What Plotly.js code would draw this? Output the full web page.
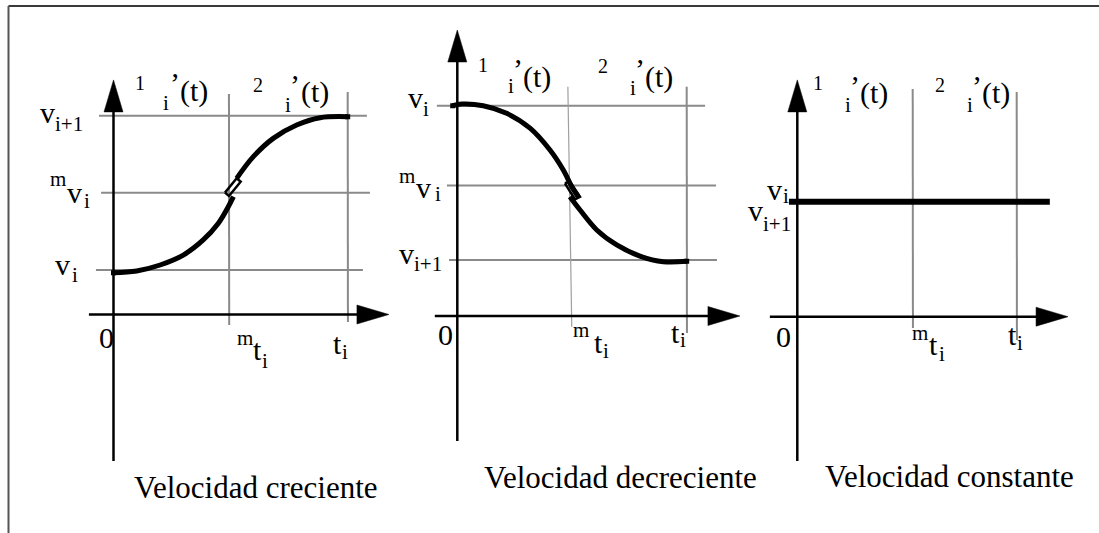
<!DOCTYPE html>
<html>
<head>
<meta charset="utf-8">
<script src="https://cdn.plot.ly/plotly-3.0.1.min.js"></script>
<style>
html, body { margin: 0; padding: 0; background: #ffffff; }
#chart { width: 1099px; height: 533px; }
</style>
</head>
<body>
<div id="chart"></div>
<script>
// ================= DATA =================
const panelTitles = ['Velocidad creciente', 'Velocidad decreciente', 'Velocidad constante'];

// time marks: 0, m t_i, t_i  (in units of t_i)
const crecTimes = [0, 0.493, 1];
const decrTimes = [0, 0.49, 1];
const consTimes = [0, 0.526, 1];

// velocity levels
const crecLevels = [0.224, 0.613, 1.0];   // v_i, m v_i, v_{i+1}
const decrLevels = [1.0, 0.620, 0.266];   // v_i, m v_i, v_{i+1}
const consLevels = [0.575];               // v_i = v_{i+1}

// tick label texts
const timeBase = ['0', 't', 't'];
const timeSup  = ['', 'm', ''];
const timeSub  = ['', 'i', 'i'];
const crecLevelSup = ['', 'm', ''];
const crecLevelSub = ['i', 'i', 'i+1'];
const decrLevelSup = ['', 'm', ''];
const decrLevelSub = ['i', 'i', 'i+1'];
const consLevelSub = ['i', 'i+1'];
const levelBase = 'v';
const segIndex = ['1', '2'];
const segFunc = ['i', '\u2019', '(t)'];

// Velocidad creciente: curve (two halves joined at m t_i)
const crecLowT = [0.0, 0.099, 0.199, 0.298, 0.383, 0.447, 0.490, 0.512];
const crecLowV = [0.210, 0.219, 0.249, 0.299, 0.375, 0.458, 0.542, 0.593];
const crecUpT  = [0.526, 0.597, 0.682, 0.782, 0.882, 1.0];
const crecUpV  = [0.685, 0.794, 0.886, 0.953, 0.990, 0.995];
const crecJointT = [0.476, 0.526, 0.543, 0.493, 0.476];
const crecJointV = [0.613, 0.685, 0.668, 0.596, 0.613];

// Velocidad decreciente: curve
const decrUpT  = [-0.02, 0.02, 0.113, 0.215, 0.317, 0.404, 0.462, 0.499, 0.527];
const decrUpV  = [1.000, 1.008, 1.000, 0.964, 0.893, 0.789, 0.694, 0.615, 0.567];
const decrLowT = [0.491, 0.535, 0.608, 0.695, 0.796, 0.898, 1.0];
const decrLowV = [0.567, 0.504, 0.409, 0.338, 0.285, 0.258, 0.260];
const decrJointT = [0.469, 0.491, 0.535, 0.513, 0.469];
const decrJointV = [0.631, 0.639, 0.567, 0.555, 0.631];

// Velocidad constante: flat line
const consT = [-0.038, 1.151];
const consV = [0.575, 0.575];

// ================= LAYOUT / STYLE CONFIG =================
const W = 1099, H = 533;
const SERIF = '"Liberation Serif", "Times New Roman", serif';
const GRAY = '#8a8a8a';
const ARROW_LEN = 32, ARROW_HALF = 9.5;
const FS_MAIN = 30, FS_SMALL = 21, FS_IDX = 20, FS_APOS = 30, FS_TITLE = 31;

const GEOM = [
  { ox: 113.5, oy: 314.5, sx: 234.2, sy: 198.8, xr: [-0.2, 1.25], yr: [-0.8, 1.3],
    xAxis: [-0.105, 1.176], yAxis: [-0.737, 1.18],
    hExt: [[-0.075, 1.065], [-0.053, 1.095], [-0.062, 1.082]],
    vExt: [[-0.053, 1.109], [-0.038, 1.119]], vSlant: [0, 0], vStyle: [[GRAY, 2], [GRAY, 2]] },
  { ox: 457.3, oy: 316, sx: 229.4, sy: 210.3, xr: [-0.2, 1.3], yr: [-0.7, 1.45],
    xAxis: [-0.098, 1.232], yAxis: [-0.594, 1.36],
    hExt: [[-0.089, 1.080], [-0.045, 1.128], [-0.036, 1.132]],
    vExt: [[-0.051, 1.090], [-0.081, 1.090]], vSlant: [0.016, 0], vStyle: [['#a0a0a0', 1.2], [GRAY, 2]] },
  { ox: 797.3, oy: 316.7, sx: 219.4, sy: 200, xr: [-0.18, 1.3], yr: [-0.8, 1.3],
    xAxis: [-0.125, 1.234], yAxis: [-0.722, 1.184],
    hExt: [],
    vExt: [[-0.057, 1.139], [-0.117, 1.124]], vSlant: [0, 0], vStyle: [[GRAY, 2], [GRAY, 2]] }
];

// label offsets: [dx, dy] of the text baseline-left point, in px, from its anchor
const LABEL_OFFS = [
  { lev: [ {base: [-58.5, 5], sub: [-42, 12]},
           {sup: [-63.5, -6.7], base: [-46.5, 10.3], sub: [-30, 15.3]},
           {base: [-73.5, 7.3], sub: [-58.5, 15.3]} ],
    time: [ {base: [-14.5, 33.5]},
            {sup: [8, 30.5], base: [24, 45.5], sub: [33, 53.5]},
            {base: [-14.7, 39.5], sub: [-5.7, 44.5]} ],
    seg: [ [[21.5, -224.5], [49.5, -204.5], [56, -222], [66.5, -213]],
           [[24, -222.5], [56, -202.5], [61.5, -220], [72, -212.5]] ],
    title: [142.5, 183.5] },
  { lev: [ {base: [-49.3, 2.3], sub: [-34.3, 10.3]},
           {sup: [-58.3, -2.7], base: [-41.3, 12.3], sub: [-22, 15.3]},
           {base: [-58.3, 4], sub: [-43.3, 11]} ],
    time: [ {base: [-19.8, 29]},
            {sup: [3.3, 21], base: [24.3, 37], sub: [33.3, 42]},
            {base: [-16.2, 27], sub: [-6.7, 31]} ],
    seg: [ [[20.7, -244], [50.7, -223], [55.3, -237.5], [65.7, -229]],
           [[28.3, -243], [60.3, -221], [64.8, -237.5], [75.3, -229]] ],
    title: [162.7, 172] },
  { lev: [ {base: [-30.3, -1.7], sub: [-14, 1.3]},
           {base: [-49.3, 19.3], sub: [-34.3, 29.3]} ],
    time: [ {base: [-21.3, 30.3]},
            {sup: [-0.7, 23.3], base: [16.3, 38.3], sub: [26.3, 44.3]},
            {base: [-8.7, 28.3], sub: [0.3, 33.3]} ],
    seg: [ [[15.7, -226.7], [47.7, -204.7], [52.3, -221], [62.7, -213.7]],
           [[22.3, -224.7], [54.3, -204.7], [58.9, -221], [69.3, -213.7]] ],
    title: [152.7, 170.3] }
];

// ================= BUILD =================
const traces = [];
const annotations = [];
const layout = {
  width: W, height: H, autosize: false,
  margin: { l: 0, r: 0, t: 0, b: 0, pad: 0 },
  paper_bgcolor: '#ffffff', plot_bgcolor: 'rgba(0,0,0,0)',
  showlegend: false, hovermode: false,
  font: { family: SERIF, color: '#000000' },
  annotations: annotations,
  shapes: [
    { type: 'line', xref: 'paper', yref: 'paper', x0: 8.5 / W, x1: 1.01, y0: 1 - 6 / H, y1: 1 - 6 / H,
      line: { color: '#3a3a3a', width: 2 } },
    { type: 'line', xref: 'paper', yref: 'paper', x0: 8.5 / W, x1: 8.5 / W, y0: 1 - 6 / H, y1: -0.01,
      line: { color: '#555555', width: 2 } }
  ]
};

GEOM.forEach((g, i) => {
  const sfx = i === 0 ? '' : String(i + 1);
  const axCommon = { visible: false, showgrid: false, zeroline: false, fixedrange: true };
  layout['xaxis' + sfx] = Object.assign({}, axCommon, {
    range: g.xr, anchor: 'y' + sfx,
    domain: [(g.ox + g.sx * g.xr[0]) / W, (g.ox + g.sx * g.xr[1]) / W]
  });
  layout['yaxis' + sfx] = Object.assign({}, axCommon, {
    range: g.yr, anchor: 'x' + sfx,
    domain: [(H - (g.oy - g.sy * g.yr[0])) / H, (H - (g.oy - g.sy * g.yr[1])) / H]
  });
});

function line(i, x, y, color, width, extra) {
  const sfx = i === 0 ? '' : String(i + 1);
  traces.push(Object.assign({
    type: 'scatter', mode: 'lines', x: x, y: y, xaxis: 'x' + sfx, yaxis: 'y' + sfx,
    line: { color: color, width: width }, hoverinfo: 'skip', showlegend: false
  }, extra || {}));
}
function curve(i, x, y) {
  line(i, x, y, '#000000', 5, { line: { color: '#000000', width: 5, shape: 'spline', smoothing: 1 } });
}
function marks(i, x, y) {
  const sfx = i === 0 ? '' : String(i + 1);
  traces.push({ type: 'scatter', mode: 'markers', x: x, y: y, xaxis: 'x' + sfx, yaxis: 'y' + sfx,
    marker: { symbol: 'square', size: 5, color: '#000000' }, hoverinfo: 'skip', showlegend: false });
}
function txt(i, ax, ay, off, text, fs, xanchor) {
  const sfx = i === 0 ? '' : String(i + 1);
  if (!off || !text) return;
  annotations.push({
    xref: 'x' + sfx, yref: 'y' + sfx, x: ax, y: ay, text: text, showarrow: false,
    xanchor: xanchor || 'left', yanchor: 'middle',
    xshift: off[0], yshift: -(off[1] - 0.3375 * fs),
    borderpad: 0, borderwidth: 0,
    font: { family: SERIF, size: fs, color: '#000000' }
  });
}

const allTimes = [crecTimes, decrTimes, consTimes];
const allLevels = [crecLevels, decrLevels, [consLevels[0], consLevels[0]]];
const allLevelSup = [crecLevelSup, decrLevelSup, ['', '']];
const allLevelSub = [crecLevelSub, decrLevelSub, consLevelSub];

GEOM.forEach((g, i) => {
  const times = allTimes[i];
  g.hExt.forEach((ext, k) => {
    line(i, [ext[0], ext[1]], [allLevels[i][k], allLevels[i][k]], GRAY, 2);
  });
  [1, 2].forEach((ti, k) => {
    const ext = g.vExt[k], s = g.vSlant[k];
    line(i, [times[ti] + s / 2 + 0.001, times[ti] - s / 2], [ext[0], ext[1]], g.vStyle[k][0], g.vStyle[k][1]);
  });
  const aLx = ARROW_LEN / g.sx, aLy = ARROW_LEN / g.sy;
  const aWx = ARROW_HALF / g.sx, aWy = ARROW_HALF / g.sy;
  line(i, [g.xAxis[0], g.xAxis[1] - aLx * 0.5], [0, 0], '#000000', 2.5);
  line(i, [0, 0], [g.yAxis[0], g.yAxis[1] - aLy * 0.5], '#000000', 2.5);
  line(i, [g.xAxis[1] - aLx, g.xAxis[1], g.xAxis[1] - aLx, g.xAxis[1] - aLx],
          [aWy, 0, -aWy, aWy], '#000000', 0.5, { fill: 'toself', fillcolor: '#000000' });
  line(i, [-aWx, 0, aWx, -aWx],
          [g.yAxis[1] - aLy, g.yAxis[1], g.yAxis[1] - aLy, g.yAxis[1] - aLy], '#000000', 0.5,
          { fill: 'toself', fillcolor: '#000000' });
});

curve(0, crecLowT, crecLowV);
curve(0, crecUpT, crecUpV);
line(0, crecJointT, crecJointV, '#000000', 2.5);
marks(0, [crecLowT[0], crecUpT[crecUpT.length - 1]], [crecLowV[0], crecUpV[crecUpV.length - 1]]);

curve(1, decrUpT, decrUpV);
curve(1, decrLowT, decrLowV);
line(1, decrJointT, decrJointV, '#000000', 2.5);
marks(1, [decrUpT[0], decrLowT[decrLowT.length - 1]], [decrUpV[0], decrLowV[decrLowV.length - 1]]);

line(2, consT, consV, '#000000', 6);

GEOM.forEach((g, i) => {
  const o = LABEL_OFFS[i];
  const times = allTimes[i];
  const levels = allLevels[i];
  o.lev.forEach((lo, k) => {
    const y = levels[k];
    txt(i, 0, y, lo.sup, allLevelSup[i][k], FS_SMALL);
    txt(i, 0, y, lo.base, levelBase, FS_MAIN);
    txt(i, 0, y, lo.sub, allLevelSub[i][k], FS_SMALL);
  });
  o.time.forEach((to, k) => {
    const x = times[k];
    txt(i, x, 0, to.sup, timeSup[k], FS_SMALL);
    txt(i, x, 0, to.base, timeBase[k], FS_MAIN);
    txt(i, x, 0, to.sub, timeSub[k], FS_SMALL);
  });
  o.seg.forEach((so, k) => {
    const x = times[k];
    txt(i, x, 0, so[0], segIndex[k], FS_IDX);
    txt(i, x, 0, so[1], segFunc[0], FS_SMALL);
    txt(i, x, 0, so[2], segFunc[1], FS_APOS);
    txt(i, x, 0, so[3], segFunc[2], FS_MAIN);
  });
  txt(i, 0, 0, o.title, panelTitles[i], FS_TITLE, 'center');
});

Plotly.newPlot('chart', traces, layout, { staticPlot: true, displayModeBar: false });
</script>
</body>
</html>
